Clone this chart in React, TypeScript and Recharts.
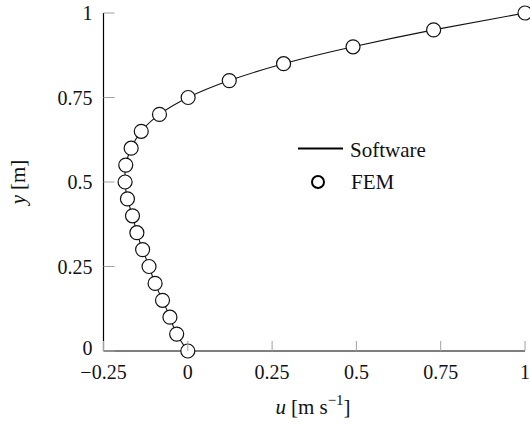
import React from "react";
import {
  ComposedChart,
  Line,
  Scatter,
  XAxis,
  YAxis,
} from "recharts";

// heights along the profile and the velocities
const yLevels = [
  0, 0.05, 0.1, 0.15, 0.2, 0.25, 0.3, 0.35, 0.4, 0.45, 0.5, 0.55, 0.6, 0.65,
  0.7, 0.75, 0.8, 0.85, 0.9, 0.95, 1,
];
const softwareU = [
  0, -0.033, -0.053, -0.075, -0.097, -0.115, -0.134, -0.151, -0.164, -0.179,
  -0.186, -0.184, -0.168, -0.138, -0.084, 0.001, 0.123, 0.284, 0.49, 0.729, 1,
];
const femU = [
  0, -0.033, -0.053, -0.075, -0.097, -0.115, -0.134, -0.151, -0.164, -0.179,
  -0.186, -0.184, -0.168, -0.138, -0.084, 0.001, 0.123, 0.284, 0.49, 0.729, 1,
];
const xTicks = [-0.25, 0, 0.25, 0.5, 0.75, 1];
const yTicks = [0, 0.25, 0.5, 0.75, 1];

const lineData = yLevels.map((y, i) => ({ u: softwareU[i], y }));
const femData = yLevels.map((y, i) => ({ u: femU[i], y }));

const FONT = "'Liberation Serif', serif";
const TICK_COLOR = "#a0a0a0";

const fmt = (v: number) => (v < 0 ? "\u2212" + String(-v) : String(v));

const XTick = (props: any) => {
  const { x, y, payload } = props;
  return (
    <g>
      <line x1={x} y1={y} x2={x} y2={y - 10} stroke={TICK_COLOR} strokeWidth={1} />
      <text
        x={x}
        y={y + 20.5}
        textAnchor="middle"
        dominantBaseline="central"
        fontFamily={FONT}
        fontSize={20}
        fill="#111"
      >
        {fmt(payload.value)}
      </text>
    </g>
  );
};

const YTick = (props: any) => {
  const { x, y, payload } = props;
  return (
    <g>
      <line x1={x} y1={y} x2={x + 11} y2={y} stroke={TICK_COLOR} strokeWidth={1} />
      <text
        x={x - 11}
        y={payload.value === 0 ? y - 3 : y}
        textAnchor="end"
        dominantBaseline="central"
        fontFamily={FONT}
        fontSize={20}
        fill="#111"
      >
        {fmt(payload.value)}
      </text>
    </g>
  );
};

const FemDot = (props: any) => {
  const { cx, cy } = props;
  return <circle cx={cx} cy={cy} r={7} fill="#fff" stroke="#111" strokeWidth={1.2} />;
};

export default function App() {
  return (
    <div style={{ position: "absolute", left: 0, top: 0, width: 530, height: 431, background: "#fff" }}>
      <ComposedChart
        width={530}
        height={431}
        margin={{ top: 13, right: 5, bottom: 50, left: 43.5 }}
      >
        <XAxis
          type="number"
          dataKey="u"
          domain={[-0.25, 1]}
          ticks={xTicks}
          interval={0}
          tickSize={0}
          tickMargin={0}
          tickLine={false}
          tick={<XTick />}
          axisLine={{ stroke: "#000", strokeWidth: 1.2 }}
          height={30}
        />
        <YAxis
          type="number"
          dataKey="y"
          domain={[0, 1]}
          ticks={yTicks}
          interval={0}
          tickSize={0}
          tickMargin={0}
          tickLine={false}
          tick={<YTick />}
          axisLine={{ stroke: "#000", strokeWidth: 1.2 }}
          width={60}
        />
        <Line
          data={lineData}
          dataKey="y"
          type="natural"
          stroke="#111"
          strokeWidth={1.1}
          dot={false}
          activeDot={false}
          isAnimationActive={false}
          legendType="none"
        />
        <Scatter
          data={femData}
          dataKey="y"
          shape={<FemDot />}
          isAnimationActive={false}
          legendType="none"
        />
        {/* legend */}
        <g>
          <line x1={298} y1={148.5} x2={343} y2={148.5} stroke="#000" strokeWidth={1.8} />
          <text x={350} y={150} dominantBaseline="central" fontFamily={FONT} fontSize={21} fill="#111">
            Software
          </text>
          <circle cx={318} cy={182} r={6} fill="#fff" stroke="#000" strokeWidth={2} />
          <text x={351} y={182} dominantBaseline="central" fontFamily={FONT} fontSize={21} fill="#111">
            FEM
          </text>
        </g>
        <text
          x={313}
          y={414}
          textAnchor="middle"
          fontFamily={FONT}
          fontSize={21}
          fill="#111"
        >
          <tspan fontStyle="italic">u</tspan>
          <tspan dx={5}>[m s</tspan>
          <tspan dy={-9} fontSize={15}>{"\u22121"}</tspan>
          <tspan dy={9}>]</tspan>
        </text>
        <text
          x={0}
          y={0}
          transform="translate(25 182) rotate(-90)"
          textAnchor="middle"
          fontFamily={FONT}
          fontSize={21}
          fill="#111"
        >
          <tspan fontStyle="italic">y</tspan>
          <tspan dx={5}>[m]</tspan>
        </text>
      </ComposedChart>
    </div>
  );
}
